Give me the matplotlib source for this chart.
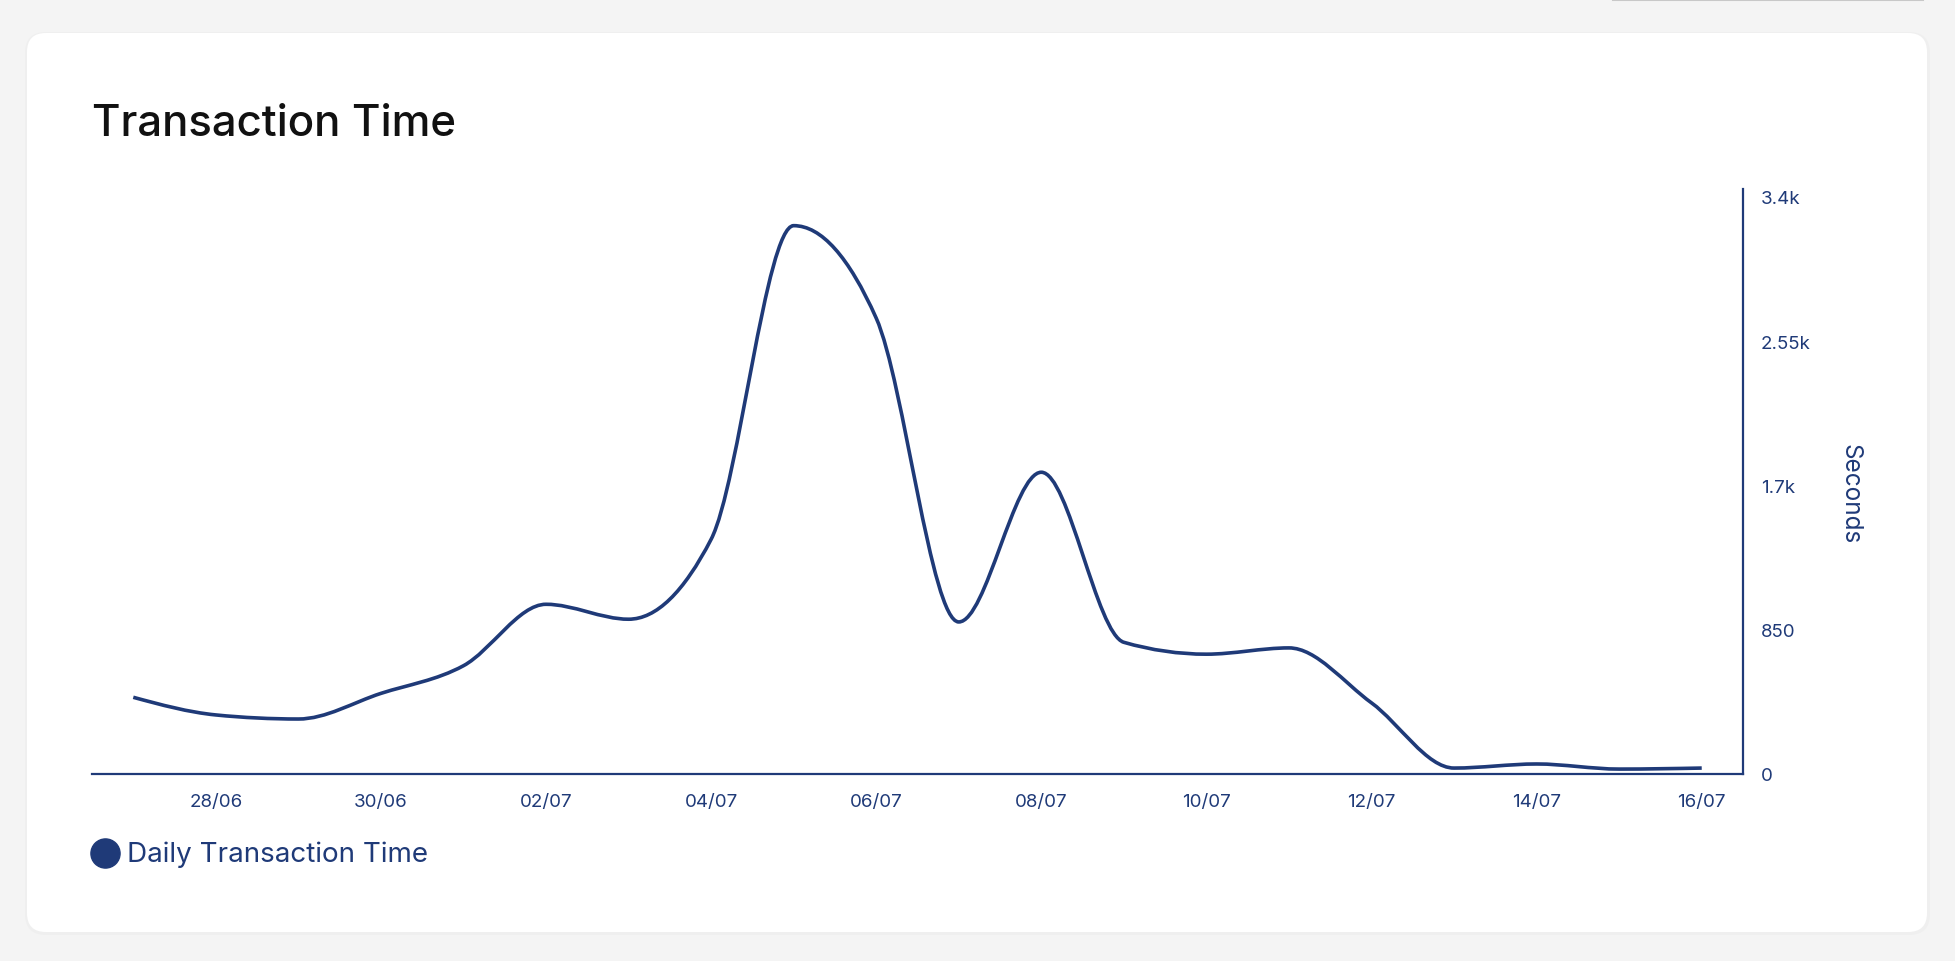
import matplotlib.pyplot as plt
import numpy as np
from matplotlib.path import Path
from matplotlib.patches import PathPatch, FancyBboxPatch

plt.rcParams['font.family'] = ['Inter', 'DejaVu Sans']

# Data
days = ['27/06', '28/06', '29/06', '30/06', '01/07', '02/07', '03/07', '04/07',
        '05/07', '06/07', '07/07', '08/07', '09/07', '10/07', '11/07', '12/07',
        '13/07', '14/07', '15/07', '16/07']
seconds = [452, 348, 324, 475, 638, 1000, 912, 1383,
           3231, 2686, 896, 1778, 776, 706, 743, 419,
           35, 59, 29, 35]
y_ticks = [0, 850, 1700, 2550, 3400]
y_tick_labels = ['0', '850', '1.7k', '2.55k', '3.4k']

navy = '#1f3a78'
W, H = 1956, 962


def monotone_path(x, y):
    # cubic bezier path like d3.curveMonotoneX
    x = np.asarray(x, float)
    y = np.asarray(y, float)
    n = len(x)
    h = np.diff(x)
    s = np.diff(y) / h
    t = np.zeros(n)
    for i in range(1, n - 1):
        p = (s[i - 1] * h[i] + s[i] * h[i - 1]) / (h[i - 1] + h[i])
        t[i] = (np.sign(s[i - 1]) + np.sign(s[i])) * min(abs(s[i - 1]), abs(s[i]), 0.5 * abs(p))
    t[0] = (3 * s[0] - t[1]) / 2
    t[-1] = (3 * s[-1] - t[-2]) / 2
    verts = [(x[0], y[0])]
    codes = [Path.MOVETO]
    for i in range(n - 1):
        d = h[i] / 3
        verts += [(x[i] + d, y[i] + d * t[i]), (x[i + 1] - d, y[i + 1] - d * t[i + 1]), (x[i + 1], y[i + 1])]
        codes += [Path.CURVE4] * 3
    return Path(verts, codes)


fig = plt.figure(figsize=(W / 100, H / 100), dpi=100)
fig.patch.set_facecolor('#f4f4f4')

# card background in pixel coordinates
bg = fig.add_axes([0, 0, 1, 1])
bg.set_xlim(0, W)
bg.set_ylim(H, 0)
bg.axis('off')
bg.add_patch(FancyBboxPatch((25, 33), 1905, 903, boxstyle='round,pad=0,rounding_size=21',
                            fc='#ececec', ec='none', alpha=0.6))
bg.add_patch(FancyBboxPatch((27, 34), 1900, 899, boxstyle='round,pad=0,rounding_size=19',
                            fc='white', ec='none'))
bg.plot([1613, 1923], [1, 1], color='#c8c8c8', lw=1.5)

ax = fig.add_axes([92 / W, 1 - 775 / H, (1743 - 92) / W, (775 - 190) / H])
ax.set_facecolor('none')
xs = np.arange(len(days))
ax.add_patch(PathPatch(monotone_path(xs, seconds), fc='none', ec=navy, lw=2.6,
                       capstyle='butt', joinstyle='round'))
ax.set_xlim(-0.5, len(days) - 0.5)
ax.set_ylim(0, 3447)

ax.set_xticks(xs[1::2])
ax.set_xticklabels(days[1::2])
ax.set_yticks(y_ticks)
ax.set_yticklabels(y_tick_labels)
ax.yaxis.tick_right()
ax.tick_params(axis='x', length=0, pad=14, labelsize=13.5, labelcolor=navy)
ax.tick_params(axis='y', length=0, pad=13, labelsize=13.5, labelcolor=navy)
for lbl in ax.get_yticklabels():
    lbl.set_horizontalalignment('left')

for side in ['top', 'left']:
    ax.spines[side].set_visible(False)
for side in ['bottom', 'right']:
    ax.spines[side].set_color(navy)
    ax.spines[side].set_linewidth(1.6)

fig.text(1850 / W, 1 - 494 / H, 'Seconds', rotation=270, ha='center', va='center',
         fontsize=17.5, color=navy)

# title
fig.text(92 / W, 1 - 124 / H, 'Transaction Time', ha='left', va='center',
         fontsize=31.5, color='#111111', fontweight='medium')

# legend
bg.scatter([105], [854], s=440, color=navy, zorder=3)
bg.text(127, 855, 'Daily Transaction Time', ha='left', va='center', fontsize=20, color=navy)

fig.savefig('out.png', dpi=100, facecolor=fig.get_facecolor())
